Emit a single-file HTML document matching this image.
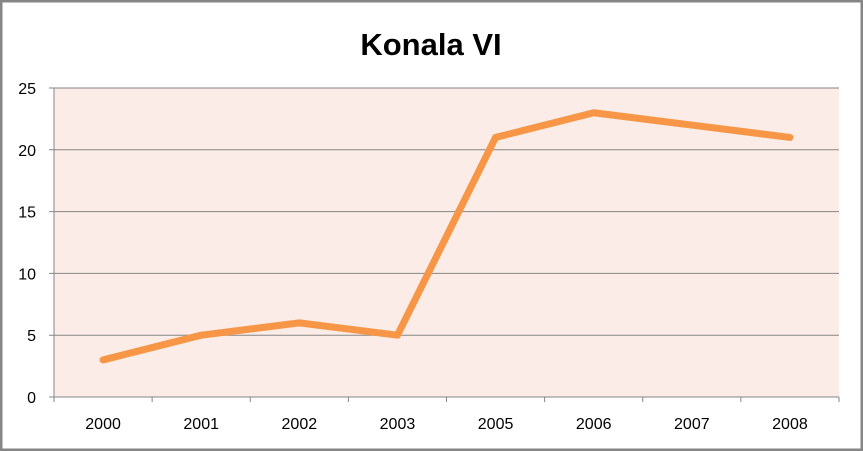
<!DOCTYPE html>
<html><head><meta charset="utf-8"><style>
body{margin:0;background:#fff}
svg{display:block;font-family:"Liberation Sans",Calibri,sans-serif}
</style></head><body>
<svg id="chart" width="863" height="451">
<rect x="1" y="1" width="861" height="449" fill="#fff" stroke="#868686" stroke-width="3"/>
<text x="431" y="55" text-anchor="middle" font-size="31" font-weight="bold" fill="#000">Konala VI</text>
<rect x="54" y="88" width="785" height="309" fill="#fbece7"/>
<g id="grid"></g><g id="axes"></g><g id="series"></g>
</svg>
<script>
const categories=["2000","2001","2002","2003","2005","2006","2007","2008"];
const values=[3,5,6,5,21,23,22,21];
const yTicks=[0,5,10,15,20,25];
const L=54,R=839,T=88,B=397,yMax=25;
const bw=(R-L)/categories.length;
const x=i=>L+bw*(i+0.5);
const y=v=>B-(v/yMax)*(B-T);
const NS="http://www.w3.org/2000/svg";
function mk(t,a,p){const e=document.createElementNS(NS,t);for(const k in a)e.setAttribute(k,a[k]);p.appendChild(e);return e;}
const grid=document.getElementById('grid'),axes=document.getElementById('axes'),series=document.getElementById('series');
yTicks.forEach(v=>{
 const g=mk('line',{x1:L-5,x2:R,y1:y(v),y2:y(v),stroke:'#868686','stroke-width':1},grid);
 
 
 const t=mk('text',{x:L-18,y:y(v)+6,'text-anchor':'end','font-size':16,fill:'#000'},axes);
 t.textContent=v;
 
 
});
const ya=mk('line',{x1:L,x2:L,y1:T,y2:B,stroke:'#868686'},axes);


for(let i=0;i<=categories.length;i++){
 const tk=mk('line',{x1:L+bw*i,x2:L+bw*i,y1:B,y2:B+5,stroke:'#868686'},axes);
 
 
}
categories.forEach((c,i)=>{
 const t=mk('text',{x:x(i),y:B+32,'text-anchor':'middle','font-size':16,fill:'#000'},axes);
 t.textContent=c;
 
 
});
const pl=mk('polyline',{points:values.map((v,i)=>x(i)+','+y(v)).join(' '),fill:'none',stroke:'#f79646','stroke-width':7,'stroke-linejoin':'round','stroke-linecap':'round'},series);


</script>
</body></html>
